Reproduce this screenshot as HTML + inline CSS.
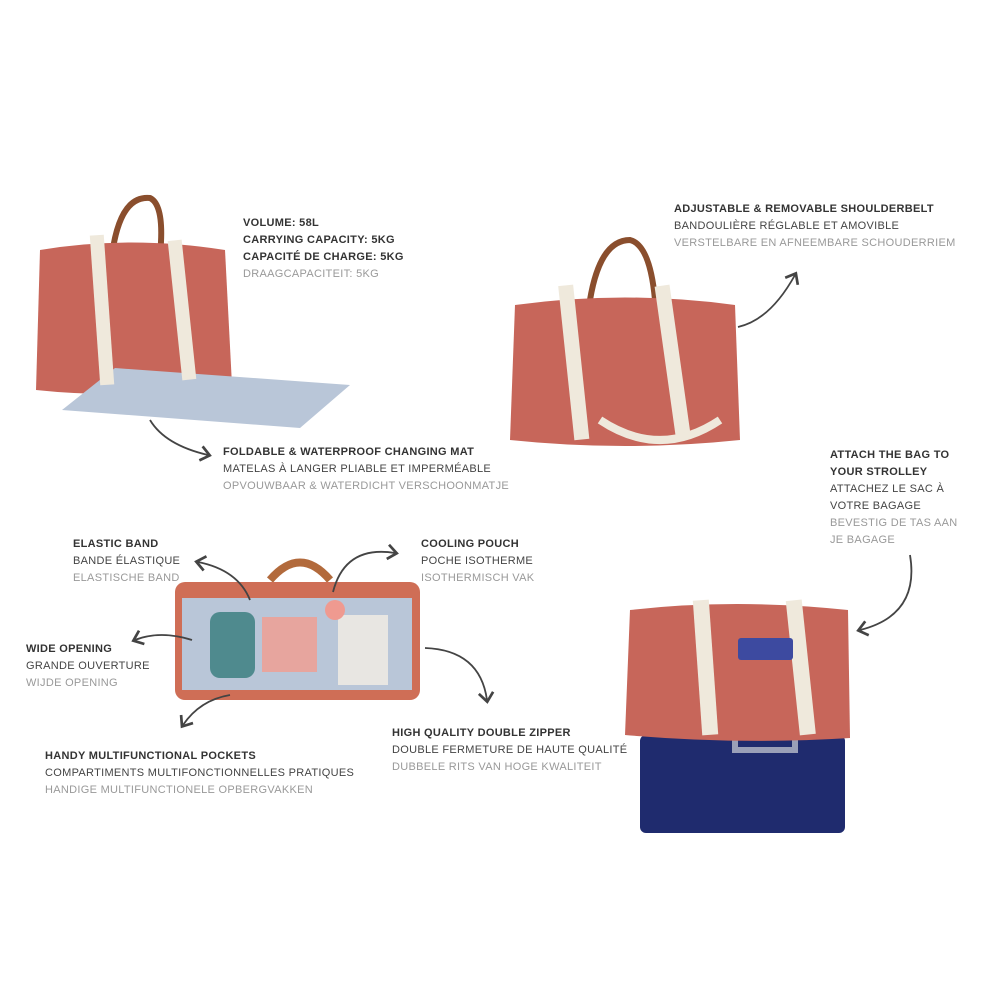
<!DOCTYPE html>
<html><head><meta charset="utf-8"><style>
body{margin:0;width:1000px;height:1000px;background:#fff;position:relative;overflow:hidden;font-family:"Liberation Sans",sans-serif}
.t{position:absolute;font-size:11px;line-height:17px;letter-spacing:0.3px;white-space:nowrap;color:#444}
.t b{font-weight:bold;color:#333;display:block}
.t span{display:block}
.t i{font-style:normal;color:#999;display:block;font-weight:300}
svg{position:absolute;left:0;top:0}
</style></head><body>
<svg width="1000" height="1000" viewBox="0 0 1000 1000">
<defs><marker id="a" markerWidth="10" markerHeight="10" refX="5" refY="5" orient="auto"><path d="M1,1 L6,5 L1,9" fill="none" stroke="#444" stroke-width="1.5"/></marker></defs>
<!-- bag 1 -->
<path d="M112,255 Q120,195 150,198 Q165,205 160,255" fill="none" stroke="#8a4e2d" stroke-width="6"/>
<path d="M40,250 Q130,235 225,250 L232,385 Q130,400 36,390 Z" fill="#c7665a"/>
<polygon points="62,410 115,368 350,385 300,428" fill="#b9c6d8"/>
<rect x="95" y="235" width="14" height="150" fill="#efe9dc" transform="rotate(-4 102 310)"/>
<rect x="175" y="240" width="14" height="140" fill="#efe9dc" transform="rotate(-6 182 310)"/>
<!-- bag 2 -->
<path d="M590,300 Q600,240 630,240 Q650,245 655,300" fill="none" stroke="#8a4e2d" stroke-width="6"/>
<path d="M515,305 Q625,290 735,305 L740,440 Q625,452 510,440 Z" fill="#c7665a"/>
<rect x="566" y="285" width="15" height="155" fill="#efe9dc" transform="rotate(-6 573 360)"/>
<rect x="665" y="285" width="15" height="155" fill="#efe9dc" transform="rotate(-8 672 360)"/>
<path d="M600,420 Q660,460 720,420" fill="none" stroke="#efe9dc" stroke-width="8"/>
<!-- bag 3 open -->
<path d="M270,580 Q300,545 330,580" fill="none" stroke="#b26a3c" stroke-width="8"/>
<rect x="175" y="582" width="245" height="118" rx="10" fill="#cf6e56"/>
<rect x="182" y="598" width="230" height="92" fill="#b9c6d8"/>
<rect x="210" y="612" width="45" height="66" rx="10" fill="#4f8a8e"/>
<rect x="262" y="617" width="55" height="55" fill="#e7a59e"/>
<rect x="338" y="615" width="50" height="70" fill="#e8e6e2"/>
<circle cx="335" cy="610" r="10" fill="#ef9a90"/>
<!-- bag 4 + suitcase -->
<rect x="640" y="735" width="205" height="98" rx="6" fill="#1f2b6e"/>
<rect x="735" y="640" width="60" height="110" fill="none" stroke="#9aa0b8" stroke-width="6"/>
<path d="M630,610 Q735,598 848,610 L850,738 Q740,745 625,735 Z" fill="#c7665a"/>
<rect x="697" y="600" width="16" height="135" fill="#efe9dc" transform="rotate(-4 705 660)"/>
<rect x="792" y="600" width="16" height="135" fill="#efe9dc" transform="rotate(-6 800 660)"/>
<rect x="738" y="638" width="55" height="22" rx="3" fill="#3d4aa0"/>
<!-- arrows -->
<g fill="none" stroke="#444" stroke-width="1.8" marker-end="url(#a)">
<path d="M738,327 Q770,320 795,275"/>
<path d="M150,420 Q165,445 208,455"/>
<path d="M910,555 Q920,615 860,630"/>
<path d="M250,600 Q238,570 198,562"/>
<path d="M333,592 Q345,545 395,553"/>
<path d="M192,640 Q160,630 135,640"/>
<path d="M230,695 Q200,700 183,725"/>
<path d="M425,648 Q480,650 487,700"/>
</g>
</svg>
<div class="t" style="left:243px;top:215px"><b>VOLUME: 58L</b><b>CARRYING CAPACITY: 5KG</b><b>CAPACITÉ DE CHARGE: 5KG</b><i>DRAAGCAPACITEIT: 5KG</i></div>
<div class="t" style="left:674px;top:201px"><b>ADJUSTABLE &amp; REMOVABLE SHOULDERBELT</b><span>BANDOULIÈRE RÉGLABLE ET AMOVIBLE</span><i>VERSTELBARE EN AFNEEMBARE SCHOUDERRIEM</i></div>
<div class="t" style="left:223px;top:444px"><b>FOLDABLE &amp; WATERPROOF CHANGING MAT</b><span>MATELAS À LANGER PLIABLE ET IMPERMÉABLE</span><i>OPVOUWBAAR &amp; WATERDICHT VERSCHOONMATJE</i></div>
<div class="t" style="left:830px;top:447px"><b>ATTACH THE BAG TO</b><b>YOUR STROLLEY</b><span>ATTACHEZ LE SAC À</span><span>VOTRE BAGAGE</span><i>BEVESTIG DE TAS AAN</i><i>JE BAGAGE</i></div>
<div class="t" style="left:73px;top:536px"><b>ELASTIC BAND</b><span>BANDE ÉLASTIQUE</span><i>ELASTISCHE BAND</i></div>
<div class="t" style="left:421px;top:536px"><b>COOLING POUCH</b><span>POCHE ISOTHERME</span><i>ISOTHERMISCH VAK</i></div>
<div class="t" style="left:26px;top:641px"><b>WIDE OPENING</b><span>GRANDE OUVERTURE</span><i>WIJDE OPENING</i></div>
<div class="t" style="left:45px;top:748px"><b>HANDY MULTIFUNCTIONAL POCKETS</b><span>COMPARTIMENTS MULTIFONCTIONNELLES PRATIQUES</span><i>HANDIGE MULTIFUNCTIONELE OPBERGVAKKEN</i></div>
<div class="t" style="left:392px;top:725px"><b>HIGH QUALITY DOUBLE ZIPPER</b><span>DOUBLE FERMETURE DE HAUTE QUALITÉ</span><i>DUBBELE RITS VAN HOGE KWALITEIT</i></div>
</body></html>
